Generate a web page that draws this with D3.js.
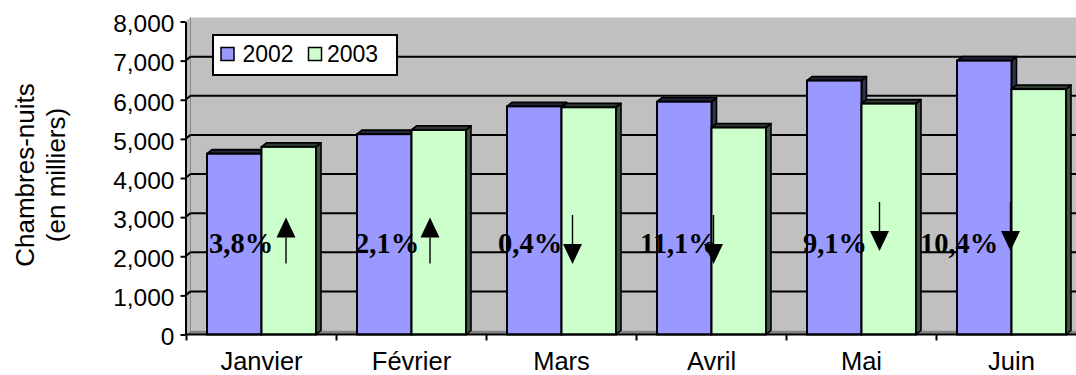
<!DOCTYPE html>
<html>
<head>
<meta charset="utf-8">
<script src="https://cdn.jsdelivr.net/npm/d3@7"></script>
<style>
  html, body { margin: 0; padding: 0; background: #fff; }
  svg { display: block; }
</style>
</head>
<body>
<svg id="chart" width="1076" height="375"></svg>
<script>
// Monthly hotel room-nights (thousands), 2002 vs 2003
const months = ["Janvier", "Février", "Mars", "Avril", "Mai", "Juin"];
const seriesNames = ["2002", "2003"];
const values2002 = [4620, 5120, 5830, 5950, 6490, 7000];
const values2003 = [4795, 5228, 5807, 5290, 5900, 6272];
const changeLabels = ["3,8%", "2,1%", "0,4%", "11,1%", "9,1%", "10,4%"];
const yTicks = [0, 1000, 2000, 3000, 4000, 5000, 6000, 7000, 8000];

// Hand placement of the change annotations (pixels, relative to each month's band)
const noteLabelDx = [22.5, 18.5, 11.5, 3.5, 16.5, -16.5];
const noteArrowDx = [24.5, 18.5, 11, 2, 18, -1];
const noteArrowDy = [0, 0, 0, 0, -13, -13];

const colors = { "2002": "#9999FF", "2003": "#CCFFCC" };
const W = 1076, H = 375;
const axisX = 185.5;
const DX = 5, DY = 4;           // depth offset of the pseudo-3D walls and bars
const sans = "'Liberation Sans', Arial, sans-serif";
const serif = "'Liberation Serif', 'Times New Roman', serif";

const svg = d3.select("#chart");

const x = d3.scaleBand().domain(months).range([186.5, 1086.5])
  .paddingInner(0.2733).paddingOuter(0.1367);
const xs = d3.scaleBand().domain(seriesNames).range([0, x.bandwidth()]);
const y = d3.scaleLinear().domain([0, 8000]).range([334.5, 21.5]);

const rows = months.map((m, i) => ({
  month: m, i,
  vals: [
    { s: "2002", v: values2002[i] },
    { s: "2003", v: values2003[i] }
  ]
}));

// ---- walls and floor
const y0 = y(0), yTop = y(8000);
svg.append("rect")
  .attr("x", axisX + DX).attr("y", yTop - DY)
  .attr("width", W - axisX).attr("height", y0 - yTop)
  .attr("fill", "#C0C0C0");
svg.append("polygon")
  .attr("points", [[axisX, yTop], [axisX + DX, yTop - DY], [axisX + DX, y0 - DY], [axisX, y0]].join(" "))
  .attr("fill", "#BDBDBD");
svg.append("line")
  .attr("x1", axisX + DX).attr("x2", axisX + DX)
  .attr("y1", yTop - DY).attr("y2", y0 - DY)
  .attr("stroke", "#8A8A8A").attr("stroke-width", 1);
svg.append("polygon")
  .attr("points", [[axisX, y0], [axisX + DX, y0 - DY], [W + DX, y0 - DY], [W, y0]].join(" "))
  .attr("fill", "#858585");

// ---- gridlines on the side and back walls
const grid = svg.append("g").attr("stroke", "#000").attr("stroke-width", 2);
yTicks.filter(v => v > 0 && v < 8000).forEach(v => {
  grid.append("line")
    .attr("x1", axisX + DX).attr("x2", W)
    .attr("y1", y(v) - DY).attr("y2", y(v) - DY);
  grid.append("line")
    .attr("x1", axisX).attr("x2", axisX + DX)
    .attr("y1", y(v)).attr("y2", y(v) - DY);
});

// ---- bars with top and side faces
const bars = svg.append("g");
rows.forEach(r => {
  r.vals.forEach(d => {
    const bx0 = x(r.month) + xs(d.s);
    const bx1 = bx0 + xs.bandwidth();
    const by = y(d.v);
    const base = d3.color(colors[d.s]);
    const g = bars.append("g");
    // right side face
    g.append("polygon")
      .attr("points", [[bx1, by], [bx1 + DX, by - DY], [bx1 + DX, y0 - DY], [bx1, y0]].join(" "))
      .attr("fill", base.darker(3.2))
      .attr("stroke", "#000").attr("stroke-width", 1.6).attr("stroke-linejoin", "round");
    // top face
    g.append("polygon")
      .attr("points", [[bx0, by], [bx0 + DX, by - DY], [bx1 + DX, by - DY], [bx1, by]].join(" "))
      .attr("fill", base.darker(4))
      .attr("stroke", "#000").attr("stroke-width", 1.8).attr("stroke-linejoin", "round");
    // front face
    g.append("rect")
      .attr("x", bx0).attr("y", by)
      .attr("width", bx1 - bx0).attr("height", y0 - by)
      .attr("fill", colors[d.s])
      .attr("stroke", "#000").attr("stroke-width", 2);
  });
});

// ---- axes
const yAxis = d3.axisLeft(y).tickValues(yTicks).tickFormat(d3.format(","))
  .tickSize(5).tickSizeOuter(0).tickPadding(6);
const ya = svg.append("g").attr("transform", `translate(${axisX},0)`).call(yAxis);
ya.select(".domain").attr("stroke", "#000").attr("stroke-width", 2);
ya.selectAll(".tick line").attr("stroke", "#000").attr("stroke-width", 2);
ya.selectAll(".tick text")
  .attr("font-family", sans).attr("font-size", 24.5).attr("fill", "#000")
  .attr("dy", "0.42em");

const xAxis = d3.axisBottom(x).tickSize(0).tickPadding(0);
const xa = svg.append("g").attr("transform", `translate(0,${y0})`).call(xAxis);
xa.select(".domain").remove();
xa.selectAll(".tick text")
  .attr("font-family", sans).attr("font-size", 25.5).attr("fill", "#000")
  .attr("dy", 0).attr("y", 35);
svg.append("line")
  .attr("x1", axisX).attr("x2", W).attr("y1", y0).attr("y2", y0)
  .attr("stroke", "#000").attr("stroke-width", 2);
// category separators
svg.append("g").selectAll("line")
  .data(months.map(m => x(m) - x.step() * x.paddingInner() / 2).concat([x(months[5]) + x.bandwidth() + x.step() * x.paddingInner() / 2]))
  .join("line")
  .attr("x1", d => d).attr("x2", d => d)
  .attr("y1", y0).attr("y2", y0 + 6)
  .attr("stroke", "#000").attr("stroke-width", 2);

// ---- change annotations: percentage and direction arrow
const notes = svg.append("g");
rows.forEach(r => {
  const i = r.i;
  const up = values2003[i] >= values2002[i];
  notes.append("text")
    .attr("x", x(r.month) - x.step() * x.paddingInner() / 2 + noteLabelDx[i])
    .attr("y", 253)
    .attr("font-family", serif).attr("font-weight", "bold").attr("font-size", 28.5)
    .attr("fill", "#000")
    .text(changeLabels[i]);
  const ax = x(r.month) + x.bandwidth() / 2 + noteArrowDx[i];
  const hw = 9.5, hh = 20;
  if (up) {
    const tail = 263.5, tip = 217.5;
    notes.append("line").attr("x1", ax).attr("x2", ax).attr("y1", tail).attr("y2", tip + hh)
      .attr("stroke", "#000").attr("stroke-width", 1.4);
    notes.append("path")
      .attr("d", `M${ax},${tip} L${ax + hw},${tip + hh} L${ax - hw},${tip + hh} Z`)
      .attr("fill", "#000");
  } else {
    const tail = 215 + noteArrowDy[i], tip = 264 + noteArrowDy[i];
    notes.append("line").attr("x1", ax).attr("x2", ax).attr("y1", tail).attr("y2", tip - hh)
      .attr("stroke", "#000").attr("stroke-width", 1.4);
    notes.append("path")
      .attr("d", `M${ax},${tip} L${ax + hw},${tip - hh} L${ax - hw},${tip - hh} Z`)
      .attr("fill", "#000");
  }
});

// ---- legend
const legend = svg.append("g");
legend.append("rect")
  .attr("x", 213).attr("y", 35).attr("width", 184).attr("height", 40)
  .attr("fill", "#fff").attr("stroke", "#000").attr("stroke-width", 2);
const legendItems = [
  { s: "2002", sx: 221, tx: 242.5 },
  { s: "2003", sx: 308.5, tx: 327 }
];
legendItems.forEach(it => {
  legend.append("rect")
    .attr("x", it.sx).attr("y", 47.5).attr("width", 13).attr("height", 13)
    .attr("fill", colors[it.s]).attr("stroke", "#000").attr("stroke-width", 1.5);
  legend.append("text")
    .attr("x", it.tx).attr("y", 61.5)
    .attr("font-family", sans).attr("font-size", 23).attr("fill", "#000")
    .text(it.s);
});

// ---- y axis title
const titleG = svg.append("g")
  .attr("transform", "translate(0,175) rotate(-90)")
  .attr("font-family", sans).attr("font-size", 26).attr("fill", "#000")
  .attr("text-anchor", "middle");
titleG.append("text").attr("x", 0).attr("y", 33.5).text("Chambres-nuits");
titleG.append("text").attr("x", 0).attr("y", 65).text("(en milliers)");
</script>
</body>
</html>
